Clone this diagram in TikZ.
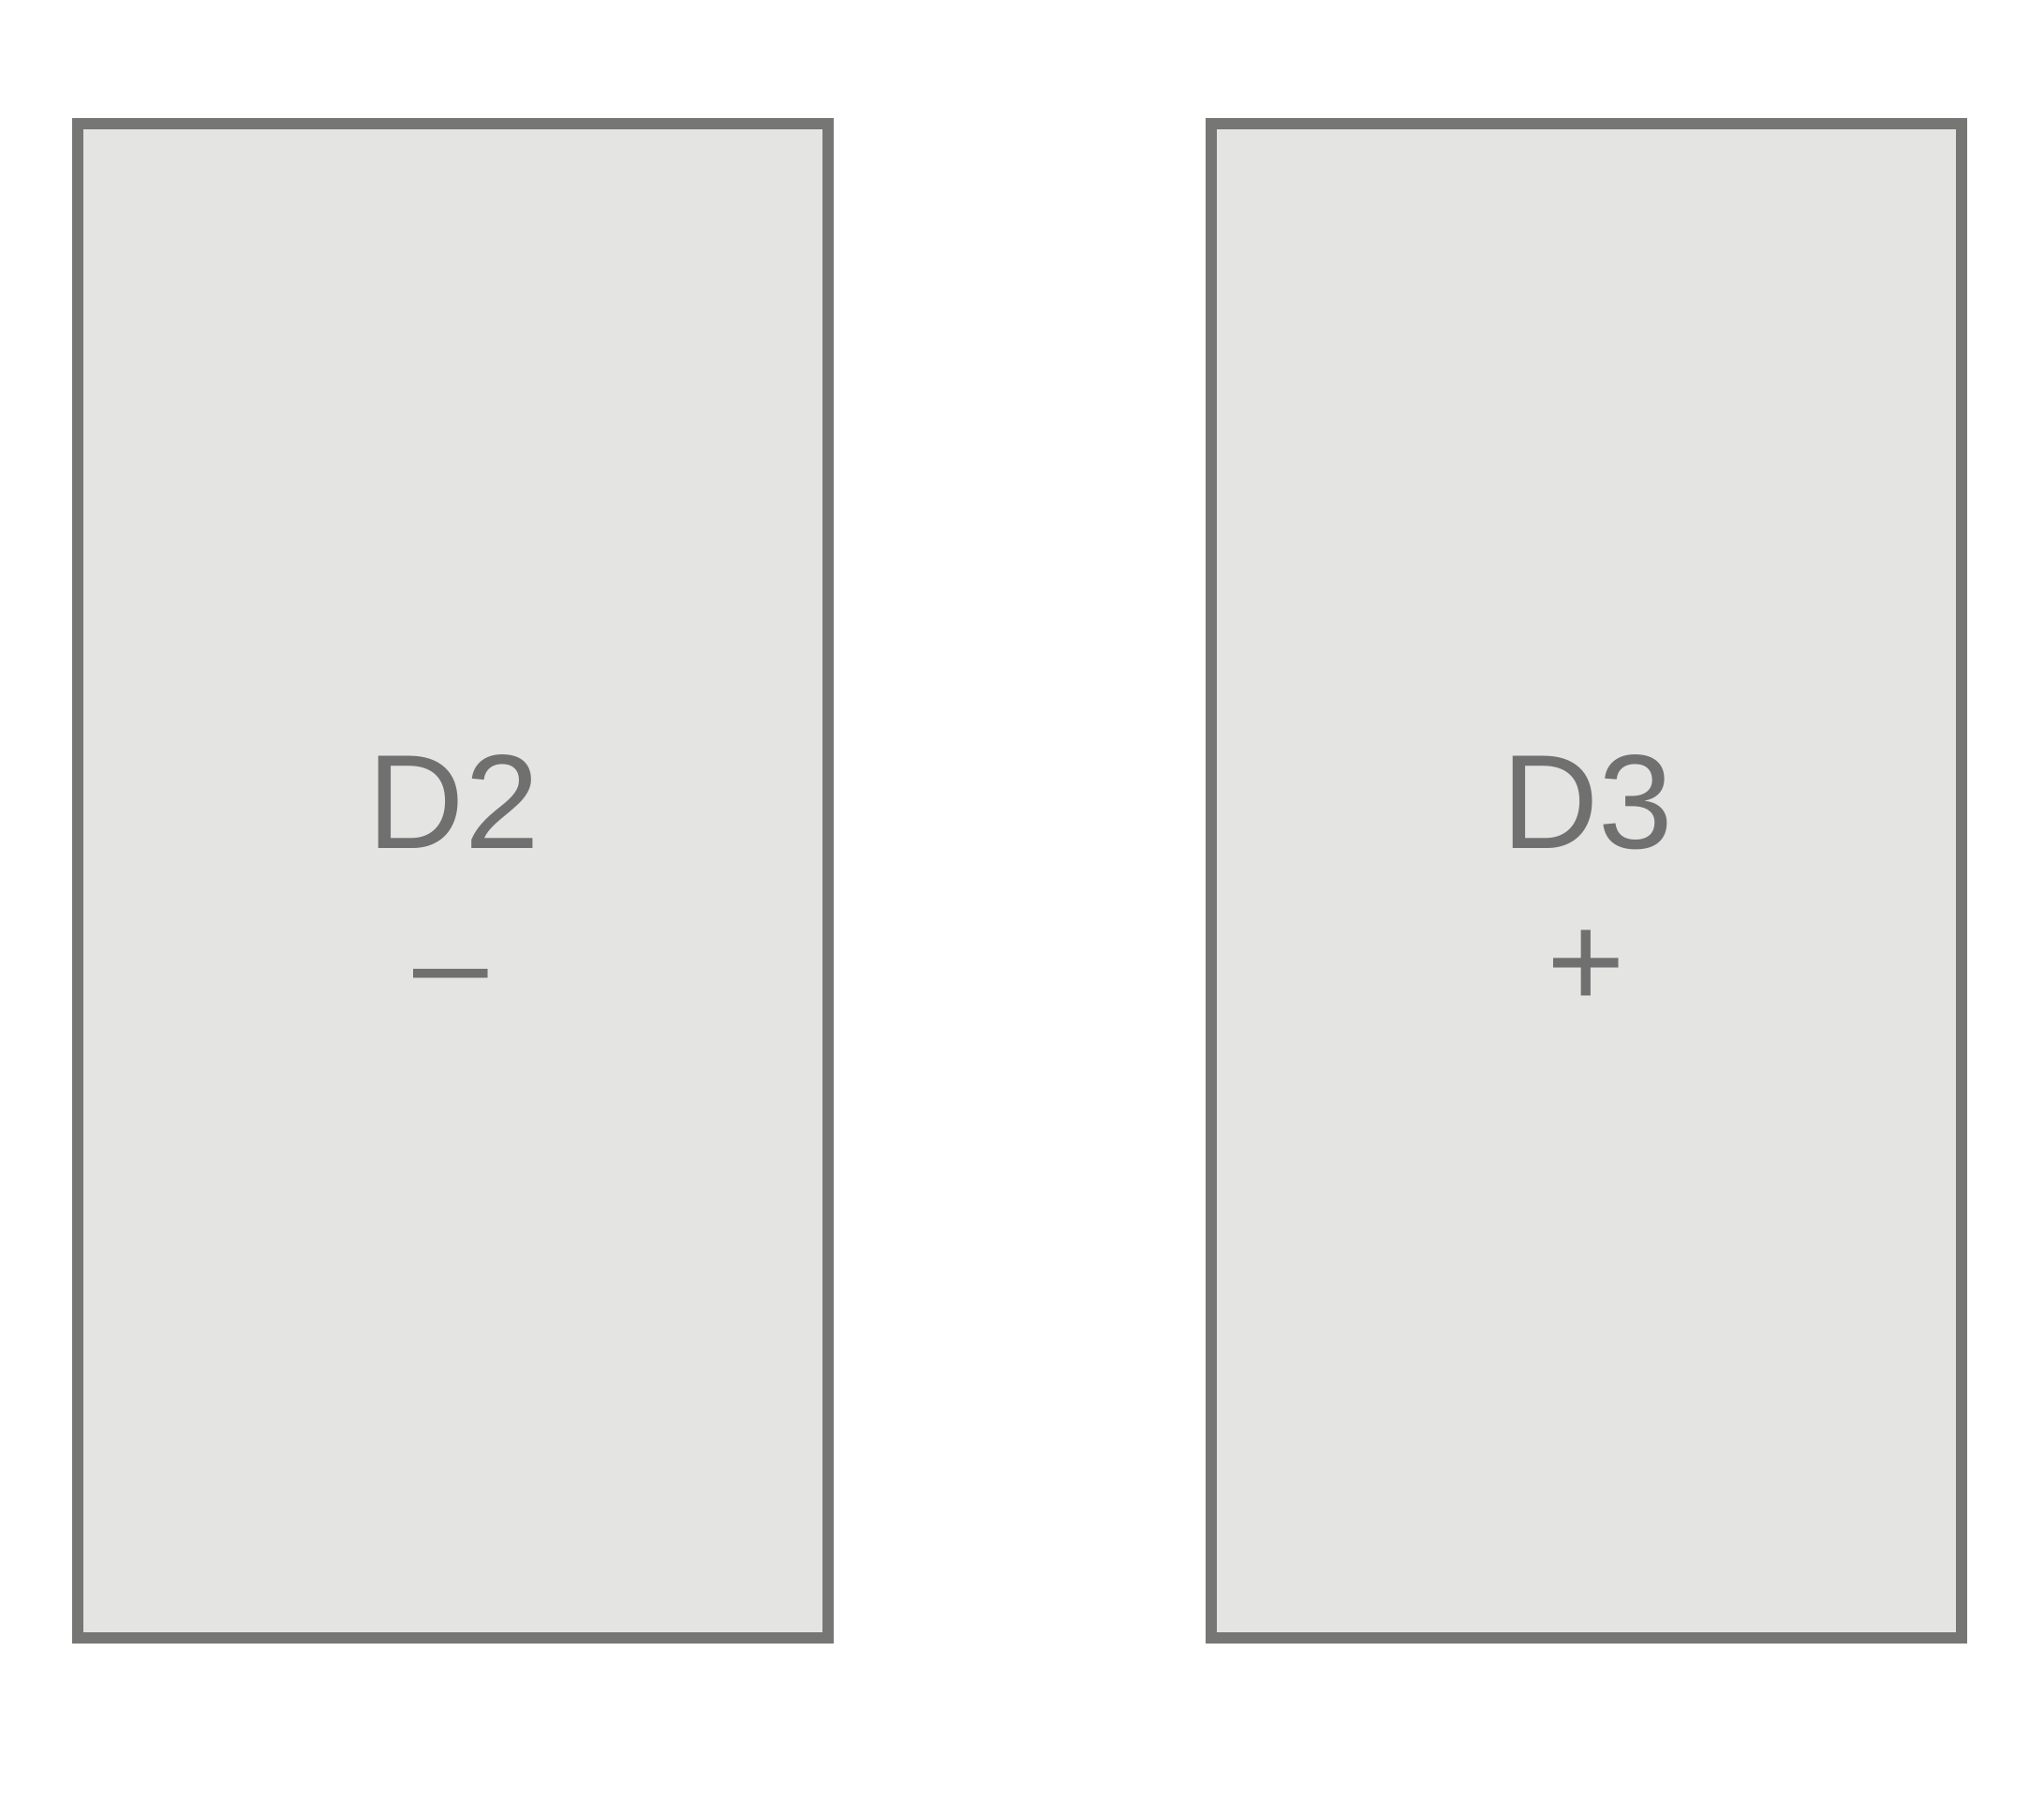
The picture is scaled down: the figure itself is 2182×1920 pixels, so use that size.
\documentclass[tikz,border=0pt]{standalone}
\usepackage{fontspec}
\setmainfont{Liberation Sans}
\definecolor{boxline}{RGB}{118,118,116}
\definecolor{boxfill}{RGB}{228,228,227}
\definecolor{labeltext}{RGB}{112,112,112}
\begin{document}
\begin{tikzpicture}[x=0.01cm,y=-0.01cm,
  panel/.style={draw=boxline, fill=boxfill, line width=0.12cm, inner sep=0pt,
    minimum width=8.005cm, minimum height=16.157cm},
  lbl/.style={text=labeltext, inner sep=0pt, anchor=base,
    font=\fontsize{40.7pt}{48pt}\selectfont}]
\useasboundingbox[fill=white] (0,0) rectangle (2182,1920);
\node[panel] (left) at (483.25,939.85) {};
\node[panel] (right) at (1693.25,939.85) {};
\node[lbl] (d2) at (484.4,905) {D2};
\node[lbl] (minus) at (481,1075) {–};
\node[lbl] (d3) at (1695,905) {D3};
\node[lbl] (plus) at (1693,1075) {+};
\end{tikzpicture}
\end{document}
